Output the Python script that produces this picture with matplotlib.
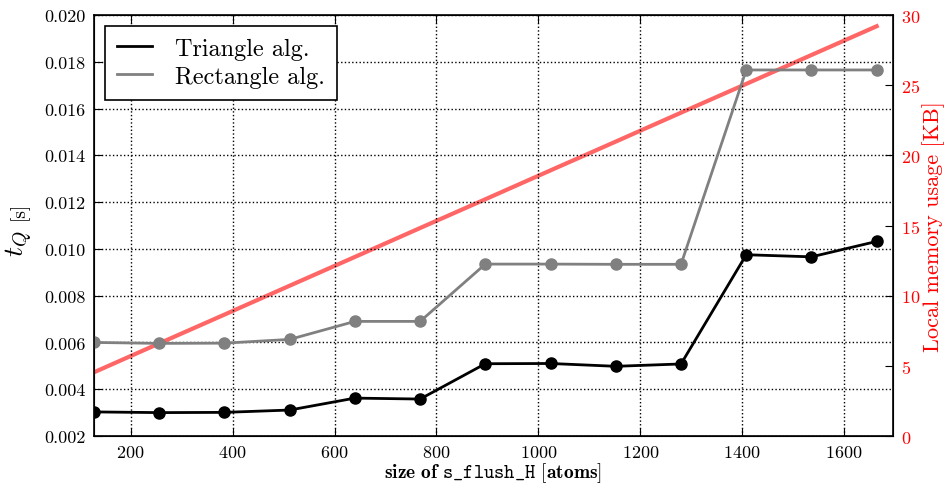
import matplotlib
matplotlib.use("Agg")
import matplotlib.pyplot as plt
from matplotlib.lines import Line2D

plt.rcParams['font.family'] = 'serif'
plt.rcParams['font.serif'] = ['cmr10', 'DejaVu Serif']
plt.rcParams['mathtext.fontset'] = 'cm'
plt.rcParams['axes.formatter.use_mathtext'] = True

sizes = [128, 256, 384, 512, 640, 768, 896, 1024, 1152, 1280, 1408, 1536, 1664]
triangle = [0.00303, 0.00300, 0.00301, 0.00311, 0.00362, 0.00358, 0.00509,
            0.00510, 0.00498, 0.00508, 0.00975, 0.00966, 0.01032]
rectangle = [0.00600, 0.00596, 0.00597, 0.00613, 0.00690, 0.00690, 0.00935,
             0.00935, 0.00934, 0.00934, 0.01765, 0.01765, 0.01765]
memory_kb = [4.54, 6.60, 8.65, 10.71, 12.76, 14.82, 16.87, 18.93, 20.98,
             23.04, 25.09, 27.15, 29.20]
y_ticks = [0.002, 0.004, 0.006, 0.008, 0.010, 0.012, 0.014, 0.016, 0.018, 0.020]
x_ticks = [200, 400, 600, 800, 1000, 1200, 1400, 1600]
mem_ticks = [0, 5, 10, 15, 20, 25, 30]

W, H = 946, 485
fig = plt.figure(figsize=(W / 100, H / 100), dpi=100)
ax = fig.add_axes([94 / W, (H - 437) / H, (893 - 94) / W, (437 - 16) / H])

ax.plot(sizes, triangle, '-o', color='black', lw=2, ms=8, label='Triangle alg.')
ax.plot(sizes, rectangle, '-o', color='#808080', lw=2, ms=8, mec='#808080',
        label='Rectangle alg.')
ax.set_xlim(128, 1696)
ax.set_ylim(0.002, 0.020)
ax.set_yticks(y_ticks)
ax.set_yticklabels(['%.3f' % v for v in y_ticks])
ax.set_xticks(x_ticks)
ax.grid(True, color='black', linestyle=':', lw=1)
ax.tick_params(axis='both', direction='in', labelsize=13, length=6, top=True, pad=6)
for s in ax.spines.values():
    s.set_linewidth(1.2)

# y label: large t_Q and smaller [s]
fig.text(19 / W, 1 - 244 / H, r'$t_Q$', rotation=90, fontsize=20,
         ha='center', va='center')
fig.text(19 / W, 1 - 211 / H, '[s]', rotation=90, fontsize=14,
         ha='center', va='center')

ax.set_xlabel(r'$\mathbf{size\ of}$ $\mathtt{s\_flush\_H}$ $\mathbf{[atoms]}$',
              fontsize=14, labelpad=0)

handles = [Line2D([], [], color='black', lw=2),
           Line2D([], [], color='#808080', lw=2)]
leg = ax.legend(handles, ['Triangle alg.', 'Rectangle alg.'], loc='upper left',
                fontsize=17.5, frameon=True, fancybox=False, framealpha=1,
                edgecolor='black', handlelength=1.45, handletextpad=0.95,
                borderpad=0.48, borderaxespad=0, labelspacing=0.25,
                bbox_to_anchor=((105 - 94) / 799, 1 - (27 - 16) / 421))
leg.get_frame().set_linewidth(1.2)

ax2 = ax.twinx()
ax2.plot(sizes, memory_kb, '-', color='red', alpha=0.6, lw=3)
ax2.set_ylim(0, 30)
ax2.set_yticks(mem_ticks)
ax2.tick_params(axis='y', direction='in', labelsize=13, length=6,
                labelcolor='red', pad=6)
ax2.set_ylabel('Local memory usage [KB]', color='red', fontsize=16, labelpad=1)
ax.set_zorder(ax2.get_zorder() + 1)
ax.patch.set_visible(False)

fig.savefig('out.png', dpi=100)
